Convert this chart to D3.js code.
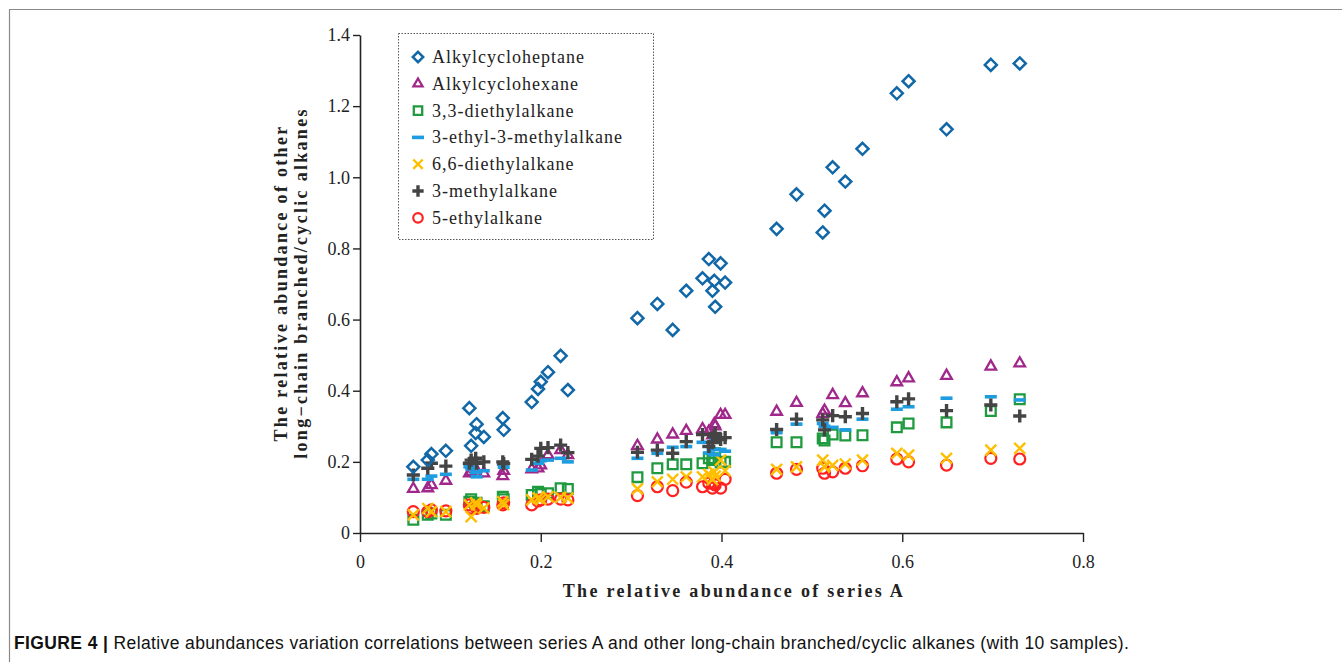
<!DOCTYPE html>
<html>
<head>
<meta charset="utf-8">
<script src="https://cdn.jsdelivr.net/npm/d3@7"></script>
<style>
  body { margin: 0; background: #fff; }
  svg { display: block; }
</style>
</head>
<body>
<svg id="chart" width="1342" height="662"></svg>
<script>
// series A abundance (shared x for every compound)
var seriesA = [0.059,0.075,0.079,0.095,0.121,0.123,0.128,0.129,0.137,0.158,0.159,0.190,0.197,0.200,0.208,0.222,0.230,
  0.307,0.329,0.346,0.361,0.379,0.386,0.390,0.392,0.393,0.399,0.404,
  0.461,0.483,0.512,0.514,0.523,0.537,0.556,0.594,0.607,0.649,0.698,0.730];

var cycloheptane = [0.186,0.205,0.222,0.231,0.351,0.245,0.281,0.306,0.270,0.323,0.290,0.368,0.405,0.425,0.452,0.498,0.402,
  0.604,0.644,0.571,0.681,0.716,0.770,0.681,0.709,0.636,0.758,0.704,
  0.855,0.952,0.845,0.906,1.028,0.988,1.080,1.236,1.270,1.135,1.316,1.320];
var cyclohexane = [0.124,0.126,0.135,0.147,0.168,0.172,0.180,0.168,0.168,0.160,0.175,0.179,0.182,0.190,0.219,0.233,0.219,
  0.245,0.263,0.277,0.287,0.292,0.285,0.275,0.306,0.300,0.332,0.332,
  0.341,0.366,0.335,0.344,0.388,0.365,0.393,0.424,0.435,0.442,0.468,0.477];
var diethyl33 = [0.037,0.051,0.055,0.051,0.088,0.095,0.080,0.085,0.075,0.102,0.095,0.107,0.116,0.110,0.112,0.126,0.124,
  0.157,0.182,0.193,0.193,0.196,0.210,0.205,0.210,0.224,0.198,0.200,
  0.255,0.255,0.266,0.260,0.277,0.274,0.275,0.297,0.308,0.311,0.343,0.376];
var ethylMethyl33 = [0.151,0.151,0.160,0.165,0.186,0.180,0.170,0.158,0.175,0.194,0.185,0.177,0.196,0.203,0.205,0.210,0.200,
  0.210,0.224,0.241,0.243,0.255,0.225,0.235,0.220,0.260,0.235,0.230,
  0.282,0.306,0.308,0.300,0.297,0.290,0.320,0.348,0.355,0.379,0.383,0.374];
var diethyl66 = [0.051,0.069,0.060,0.060,0.079,0.046,0.085,0.079,0.070,0.088,0.080,0.093,0.098,0.095,0.102,0.100,0.098,
  0.124,0.144,0.151,0.158,0.158,0.165,0.150,0.171,0.160,0.205,0.175,
  0.179,0.186,0.205,0.186,0.190,0.194,0.205,0.224,0.219,0.210,0.233,0.238];
var methyl3 = [0.163,0.182,0.196,0.188,0.196,0.205,0.210,0.196,0.200,0.200,0.195,0.207,0.216,0.238,0.240,0.247,0.226,
  0.227,0.233,0.224,0.257,0.277,0.243,0.254,0.271,0.280,0.263,0.268,
  0.291,0.320,0.318,0.290,0.330,0.327,0.336,0.369,0.377,0.344,0.360,0.329];
var ethyl5 = [0.060,0.060,0.065,0.062,0.079,0.070,0.075,0.069,0.072,0.079,0.085,0.079,0.090,0.093,0.095,0.095,0.093,
  0.105,0.130,0.119,0.143,0.130,0.140,0.126,0.140,0.135,0.126,0.151,
  0.168,0.179,0.182,0.168,0.172,0.182,0.189,0.208,0.200,0.191,0.210,0.208];

var xTicks = [0, 0.2, 0.4, 0.6, 0.8];
var yTicks = [0, 0.2, 0.4, 0.6, 0.8, 1.0, 1.2, 1.4];

var dashPath = {draw: function(ctx, size){ ctx.moveTo(-6, 0); ctx.lineTo(6, 0); }};

var series = [
  {name: 'Alkylcycloheptane', values: cycloheptane, type: d3.symbolDiamond2, size: 92, color: '#1268a6', sw: 2.5},
  {name: 'Alkylcyclohexane', values: cyclohexane, type: d3.symbolTriangle2, size: 80, color: '#a0288a', sw: 2.3},
  {name: '3,3-diethylalkane', values: diethyl33, type: d3.symbolSquare2, size: 120, color: '#1f9a3e', sw: 2.3},
  {name: '3-ethyl-3-methylalkane', values: ethylMethyl33, type: dashPath, size: 0, color: '#1d9ce0', sw: 3.6},
  {name: '6,6-diethylalkane', values: diethyl66, type: d3.symbolTimes, size: 80, color: '#ffbf00', sw: 2.4},
  {name: '3-methylalkane', values: methyl3, type: d3.symbolPlus, size: 58, color: '#444444', sw: 3.4},
  {name: '5-ethylalkane', values: ethyl5, type: d3.symbolCircle, size: 95, color: '#ff2020', sw: 2.2}
];

var svg = d3.select('#chart');

// outer frame of the figure panel
svg.append('path')
  .attr('d', 'M9.5,662 L9.5,9.5 L1342,9.5')
  .attr('fill', 'none').attr('stroke', '#8a8a8a').attr('stroke-width', 1.2);

var x = d3.scaleLinear().domain([0, 0.8]).range([360, 1083]);
var y = d3.scaleLinear().domain([0, 1.4]).range([533, 35]);

var serif = '"Liberation Serif", "DejaVu Serif", serif';

var gx = svg.append('g').attr('transform', 'translate(0,533)')
  .call(d3.axisBottom(x).tickValues(xTicks).tickSize(9).tickSizeOuter(0)
    .tickFormat(function(d){ return d === 0 ? '0' : d3.format('.1f')(d); }));
var gy = svg.append('g').attr('transform', 'translate(360,0)')
  .call(d3.axisLeft(y).tickValues(yTicks).tickSize(7).tickSizeOuter(0)
    .tickFormat(function(d){ return d === 0 ? '0' : d3.format('.1f')(d); }));

[gx, gy].forEach(function(g){
  g.select('.domain').attr('stroke', '#222').attr('stroke-width', 1.6);
  g.selectAll('.tick line').attr('stroke', '#222').attr('stroke-width', 1.4);
  g.selectAll('.tick text').attr('fill', '#222')
    .style('font-family', serif).style('font-size', '18px');
});
gx.selectAll('.tick text').attr('dy', '1.25em');
gy.selectAll('.tick text').attr('x', -10);

// points
var order = [2, 6, 4, 1, 3, 5, 0];
order.forEach(function(si){
  var s = series[si];
  var sym = d3.symbol().type(s.type).size(s.size);
  svg.append('g').selectAll('path')
    .data(s.values)
    .enter().append('path')
    .attr('transform', function(d, i){ return 'translate(' + x(seriesA[i]) + ',' + y(d) + ')'; })
    .attr('d', sym)
    .attr('fill', 'none')
    .attr('stroke', s.color)
    .attr('stroke-width', s.sw);
});

// axis titles
svg.append('text')
  .attr('x', 734).attr('y', 597)
  .attr('text-anchor', 'middle')
  .style('font-family', serif).style('font-weight', 'bold').style('font-size', '18px')
  .style('letter-spacing', '2.3px')
  .attr('fill', '#222')
  .text('The relative abundance of series A');

var yt = svg.append('text')
  .attr('transform', 'translate(0,283) rotate(-90)')
  .attr('text-anchor', 'middle')
  .style('font-family', serif).style('font-weight', 'bold').style('font-size', '18px')
  .style('letter-spacing', '2.3px')
  .attr('fill', '#222');
yt.append('tspan').attr('x', 0).attr('y', 287).text('The relative abundance of other');
yt.append('tspan').attr('x', 0).attr('y', 307).text('long\u2212chain branched/cyclic alkanes');

// legend
var legend = svg.append('g');
legend.append('rect')
  .attr('x', 398.5).attr('y', 33.5).attr('width', 255).attr('height', 206)
  .attr('fill', '#fff').attr('stroke', '#555').attr('stroke-width', 1)
  .attr('stroke-dasharray', '1.5,1.5');

var row = legend.selectAll('g.row')
  .data(series)
  .enter().append('g')
  .attr('class', 'row')
  .attr('transform', function(d, i){ return 'translate(418,' + (57 + i * 26.8) + ')'; });

row.append('path')
  .attr('d', function(d){ return d3.symbol().type(d.type).size(d.size * 0.75)(); })
  .attr('fill', 'none')
  .attr('stroke', function(d){ return d.color; })
  .attr('stroke-width', function(d){ return d.sw; });

row.append('text')
  .attr('x', 14).attr('y', 6)
  .style('font-family', serif).style('font-size', '18px')
  .style('letter-spacing', '1px')
  .attr('fill', '#222')
  .text(function(d){ return d.name; });

// caption
var cap = svg.append('text')
  .attr('x', 14).attr('y', 649)
  .style('font-family', '"Liberation Sans", Arial, sans-serif').style('font-size', '17.5px')
  .style('letter-spacing', '0.38px')
  .attr('fill', '#111');
cap.append('tspan').style('font-weight', 'bold').text('FIGURE 4 | ');
cap.append('tspan').text('Relative abundances variation correlations between series A and other long-chain branched/cyclic alkanes (with 10 samples).');
</script>
</body>
</html>
